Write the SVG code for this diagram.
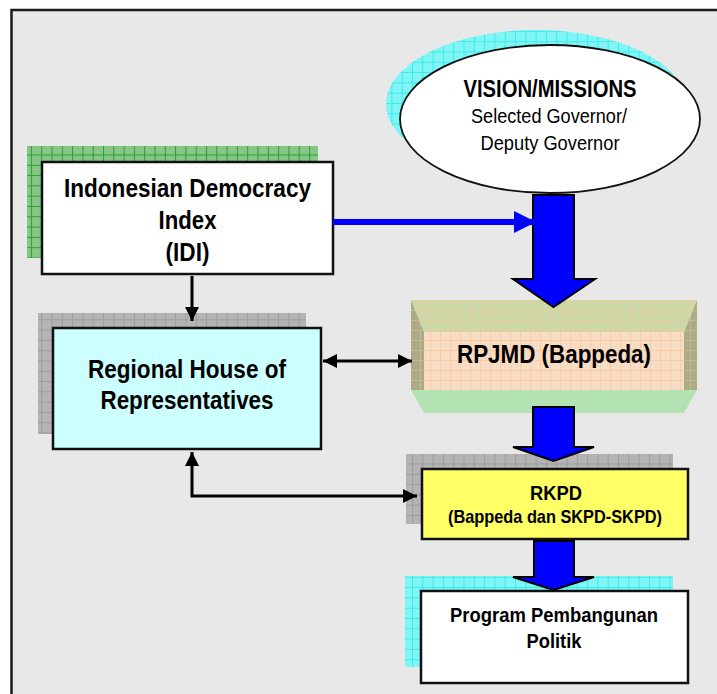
<svg xmlns="http://www.w3.org/2000/svg" width="717" height="694" viewBox="0 0 717 694">
<style>
.t{font-family:"Liberation Sans Narrow","Arial Narrow","Liberation Sans",Arial,sans-serif;fill:#000;text-anchor:middle}
.b{font-weight:bold}
.box{stroke:#111;stroke-width:2.5}
.ln{fill:none;stroke:#000;stroke-width:3}
.blue{fill:#0000ff;stroke:#000;stroke-width:2;stroke-linejoin:miter}
</style>
<defs>
<pattern id="pg" width="10.3" height="10.3" patternUnits="userSpaceOnUse">
<rect width="10.3" height="10.3" fill="#86c686"/>
<path d="M0 0.5H10.3M0.5 0V10.3" stroke="#2aa02a" stroke-width="1"/>
</pattern>
<pattern id="pgr" width="10.3" height="10.3" patternUnits="userSpaceOnUse">
<rect width="10.3" height="10.3" fill="#b4b4b4"/>
<path d="M0 0.5H10.3M0.5 0V10.3" stroke="#9c9c9c" stroke-width="1"/>
</pattern>
<pattern id="pc" width="10.3" height="10.3" patternUnits="userSpaceOnUse">
<rect width="10.3" height="10.3" fill="#7ff5f5"/>
<path d="M0 0.5H10.3M0.5 0V10.3" stroke="#3ceaea" stroke-width="1"/>
</pattern>
<pattern id="pf" width="10" height="10" patternUnits="userSpaceOnUse">
<rect width="10" height="10" fill="#f7dcc6"/>
<path d="M0 0.5H10M0.5 0V10" stroke="#fccca0" stroke-width="1"/>
</pattern>
<pattern id="pt" width="10" height="10" patternUnits="userSpaceOnUse">
<rect width="10" height="10" fill="#cbd8a8"/>
<path d="M0 0.5H10M0.5 0V10" stroke="#e8cc9c" stroke-width="1"/>
</pattern>
<pattern id="ps" width="10" height="10" patternUnits="userSpaceOnUse">
<rect width="10" height="10" fill="#abab86"/>
<path d="M0 0.5H10M0.5 0V10" stroke="#c8b890" stroke-width="1"/>
</pattern>
<marker id="ah" viewBox="0 0 10 10" refX="10" refY="5" markerWidth="14" markerHeight="14" markerUnits="userSpaceOnUse" orient="auto-start-reverse">
<path d="M0 0L10 5L0 10Z" fill="#000"/>
</marker>
<marker id="bh" viewBox="0 0 10 10" refX="10" refY="5" markerWidth="22" markerHeight="22" markerUnits="userSpaceOnUse" orient="auto">
<path d="M0 0L10 5L0 10Z" fill="#0000ff"/>
</marker>
</defs>
<rect x="0" y="0" width="717" height="694" fill="#fff"/>
<rect x="11.5" y="10" width="720" height="700" fill="#e8e8e8" stroke="#1a1a1a" stroke-width="2.5"/>

<g id="idi">
<rect x="27" y="146" width="291" height="112" fill="url(#pg)"/>
<rect class="box" x="42" y="162" width="291" height="112" fill="#fff"/>
<text class="t b" font-size="26" x="187.5" y="197" textLength="247" lengthAdjust="spacingAndGlyphs">Indonesian Democracy</text>
<text class="t b" font-size="26" x="187.5" y="229" textLength="58" lengthAdjust="spacingAndGlyphs">Index</text>
<text class="t b" font-size="26" x="187.5" y="261" textLength="44" lengthAdjust="spacingAndGlyphs">(IDI)</text>
</g>

<g id="dprd">
<rect x="38" y="313" width="268" height="121" fill="url(#pgr)"/>
<rect class="box" x="53" y="328" width="268" height="121" fill="#ccffff"/>
<text class="t b" font-size="26" x="187" y="378" textLength="198" lengthAdjust="spacingAndGlyphs">Regional House of</text>
<text class="t b" font-size="26" x="187" y="409" textLength="173" lengthAdjust="spacingAndGlyphs">Representatives</text>
</g>

<g id="vision">
<ellipse cx="536" cy="104" rx="150" ry="74" fill="url(#pc)"/>
<ellipse cx="550" cy="119" rx="150" ry="74" fill="#fff" stroke="#111" stroke-width="1.8"/>
<text class="t b" font-size="23" x="550" y="97" textLength="173" lengthAdjust="spacingAndGlyphs">VISION/MISSIONS</text>
<text class="t" font-size="21" x="549" y="123" textLength="156" lengthAdjust="spacingAndGlyphs">Selected Governor/</text>
<text class="t" font-size="21" x="550" y="150" textLength="139" lengthAdjust="spacingAndGlyphs">Deputy Governor</text>
</g>

<g id="rpjmd">
<polygon points="411,300 697,300 684,332 424,332" fill="url(#pt)"/>
<polygon points="411,300 424,332 424,390 411,390" fill="url(#ps)"/>
<polygon points="697,300 684,332 684,390 697,390" fill="url(#ps)"/>
<rect x="424" y="332" width="260" height="58" fill="url(#pf)"/>
<polygon points="411,390 697,390 684,413 424,413" fill="#b3e2b3"/>
<text class="t b" font-size="26" x="554" y="363" textLength="194" lengthAdjust="spacingAndGlyphs">RPJMD (Bappeda)</text>
</g>

<g id="rkpd">
<rect x="406" y="454" width="267" height="70" fill="url(#pgr)"/>
<rect class="box" x="422" y="469" width="266" height="70" fill="#ffff66"/>
<text class="t b" font-size="21" x="556" y="500" textLength="52" lengthAdjust="spacingAndGlyphs">RKPD</text>
<text class="t b" font-size="19" x="555" y="523" textLength="214" lengthAdjust="spacingAndGlyphs">(Bappeda dan SKPD-SKPD)</text>
</g>

<g id="program">
<rect x="405" y="576" width="268" height="91" fill="url(#pc)"/>
<rect class="box" x="421" y="591" width="267" height="92" fill="#fff"/>
<text class="t b" font-size="20" x="554" y="622" textLength="208" lengthAdjust="spacingAndGlyphs">Program Pembangunan</text>
<text class="t b" font-size="20" x="554" y="648" textLength="55" lengthAdjust="spacingAndGlyphs">Politik</text>
</g>

<g id="connectors">
<polygon class="blue" points="533,195 574,195 574,279 595,279 553.5,307 513,279 533,279"/>
<polygon class="blue" points="533,407 574,407 574,447 594,447 553.5,461 513,447 533,447"/>
<polygon class="blue" points="534,541 574,541 574,577 594,577 553.5,590 513,577 534,577"/>
<line x1="333" y1="222" x2="536" y2="222" stroke="#0000ff" stroke-width="6" marker-end="url(#bh)"/>
<line class="ln" x1="192" y1="276" x2="192" y2="321" marker-end="url(#ah)"/>
<line class="ln" x1="323" y1="361" x2="412" y2="361" marker-start="url(#ah)" marker-end="url(#ah)"/>
<polyline class="ln" points="192,452 192,496 417,496" marker-start="url(#ah)" marker-end="url(#ah)"/>
</g>
</svg>
